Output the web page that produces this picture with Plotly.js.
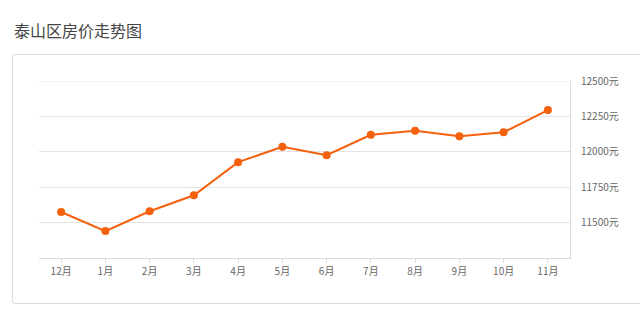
<!DOCTYPE html>
<html>
<head>
<meta charset="utf-8">
<script src="https://cdn.plot.ly/plotly-3.0.1.min.js"></script>
<style>
html,body{margin:0;padding:0;background:#fff;}
#wrap{position:relative;width:640px;height:313px;overflow:hidden;}
#card{position:absolute;left:12px;top:54px;width:700px;height:250px;border:1px solid #dcdcdc;border-radius:3px;box-sizing:border-box;}
#chart{position:absolute;left:0;top:0;width:640px;height:313px;}
</style>
</head>
<body>
<div id="wrap">
<div id="card"></div>
<div id="chart"></div>
</div>
<script>
var months = ['12月','1月','2月','3月','4月','5月','6月','7月','8月','9月','10月','11月'];
var prices = [11575, 11440, 11580, 11693, 11927, 12035, 11976, 12120, 12148, 12110, 12138, 12295];
var yTicks = [11500, 11750, 12000, 12250, 12500];
var yTickText = yTicks.map(function(v){ return v + '元'; });

var trace = {
  x: months,
  y: prices,
  type: 'scatter',
  mode: 'lines+markers',
  line: {color: '#f4600c', width: 2},
  marker: {color: '#f4600c', size: 8},
  hoverinfo: 'x+y'
};

var layout = {
  width: 640,
  height: 313,
  margin: {l: 39, r: 70, t: 81, b: 55},
  paper_bgcolor: 'rgba(0,0,0,0)',
  plot_bgcolor: 'rgba(0,0,0,0)',
  font: {family: '"Noto Sans CJK SC", "Noto Sans", sans-serif', color: '#666'},
  showlegend: false,
  xaxis: {
    type: 'category',
    range: [-0.5, 11.5],
    showgrid: false,
    showline: true,
    linecolor: '#dcdcdc',
    linewidth: 1,
    ticks: 'outside',
    ticklen: 4,
    tickcolor: '#dcdcdc',
    tickfont: {size: 10, color: '#666'},
    fixedrange: true,
    zeroline: false
  },
  yaxis: {
    side: 'right',
    range: [11250, 12500],
    tickvals: yTicks,
    ticktext: yTickText,
    showgrid: true,
    gridcolor: '#e3e3e3',
    gridwidth: 1,
    showline: true,
    linecolor: '#dcdcdc',
    linewidth: 1,
    ticks: '',
    ticklabelstandoff: 8,
    tickfont: {size: 10, color: '#666'},
    zeroline: false,
    fixedrange: true
  },
  shapes: [{
    type: 'line', xref: 'paper', yref: 'y',
    x0: 0, x1: 1, y0: yTicks[yTicks.length-1], y1: yTicks[yTicks.length-1],
    line: {color: '#e3e3e3', width: 1},
    layer: 'below'
  }],
  annotations: [{
    text: '泰山区房价走势图',
    xref: 'paper', yref: 'paper',
    x: -27/531, y: (258-30)/177,
    xanchor: 'left', yanchor: 'middle',
    showarrow: false,
    font: {size: 16, color: '#444', family: '"Noto Sans CJK SC", sans-serif'}
  }]
};

Plotly.newPlot('chart', [trace], layout, {displayModeBar: false, staticPlot: true});
</script>
</body>
</html>
